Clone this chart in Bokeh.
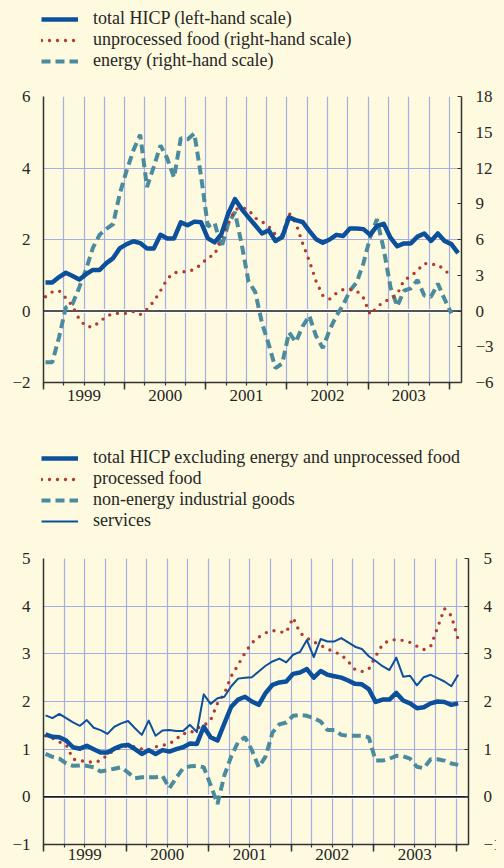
from bokeh.plotting import figure
from bokeh.models import (Range1d, LinearAxis, FixedTicker, Span, Legend, LegendItem,
                          Grid, CustomJSTickFormatter)
from bokeh.layouts import column
from bokeh.embed import file_html
from bokeh.resources import INLINE

START_YEAR = 1999
year_labels = ["1999", "2000", "2001", "2002", "2003"]

# ---- top chart (monthly, Jan 1999 onward) ----
hicp = [0.8, 0.8, 0.95, 1.07, 0.98, 0.88, 1.03, 1.15, 1.15, 1.34, 1.48, 1.76,
        1.87, 1.95, 1.9, 1.75, 1.75, 2.13, 2.03, 2.03, 2.48, 2.4, 2.5, 2.48,
        2.03, 1.92, 2.15, 2.72, 3.13, 2.85, 2.62, 2.4, 2.17, 2.26, 1.96, 2.07,
        2.62, 2.54, 2.49, 2.24, 2.01, 1.91, 2.0, 2.13, 2.1, 2.31, 2.31, 2.29,
        2.13, 2.38, 2.44, 2.05, 1.81, 1.89, 1.89, 2.08, 2.17, 1.96, 2.17, 1.96,
        1.87, 1.62]
unprocessed_food = [1.2, 1.6, 1.7, 1.1, 0.4, -0.7, -1.3, -1.35, -0.9, -0.45, -0.2, -0.2,
                    -0.2, -0.05, -0.3, 0.15, 0.8, 1.7, 2.7, 3.2, 3.3, 3.3, 3.5, 3.9,
                    4.5, 4.7, 6.2, 7.3, 8.5, 8.7, 8.5, 7.8, 7.5, 7.1, 6.4, 6.4,
                    8.2, 7.4, 5.7, 4.2, 2.5, 1.3, 1.0, 1.5, 1.8, 1.8, 1.7, 1.1,
                    -0.3, 0.3, 0.8, 1.0, 1.4, 2.6, 2.9, 3.4, 4.0, 3.9, 3.9, 3.4,
                    3.0]
energy = [-4.3, -4.3, -2.2, 0.3, 0.6, 2.0, 3.5, 5.3, 6.4, 6.9, 7.3, 9.9,
          11.8, 13.5, 14.8, 10.4, 12.1, 13.9, 12.8, 11.2, 14.5, 14.4, 14.9, 11.3,
          7.1, 7.4, 5.3, 7.3, 8.3, 5.6, 2.5, 1.6, -1.0, -2.8, -4.8, -4.4,
          -1.8, -2.6, -1.3, -0.4, -2.1, -3.1, -1.6, -0.4, 0.5, 1.7, 2.4, 4.0,
          6.2, 7.7, 5.2, 2.0, 0.4, 1.7, 1.9, 2.6, 1.3, 1.2, 2.3, 1.0,
          -0.2]

# ---- bottom chart ----
hicp_core = [1.31, 1.26, 1.25, 1.18, 1.04, 1.01, 1.07, 1.0, 0.93, 0.93, 1.01, 1.07,
             1.09, 1.0, 0.9, 0.98, 0.9, 0.98, 0.95, 1.0, 1.04, 1.12, 1.11, 1.47,
             1.25, 1.18, 1.54, 1.89, 2.04, 2.1, 2.0, 1.93, 2.18, 2.35, 2.4, 2.42,
             2.58, 2.61, 2.68, 2.5, 2.64, 2.56, 2.53, 2.5, 2.44, 2.37, 2.36, 2.26,
             1.99, 2.04, 2.04, 2.18, 2.02, 1.96, 1.86, 1.88, 1.96, 2.0, 1.99, 1.93,
             1.96]
processed_food = [1.28, 1.23, 1.15, 1.09, 0.79, 0.76, 0.74, 0.72, 0.76, 0.88, 0.98, 1.04,
                  1.07, 1.05, 1.0, 0.98, 1.05, 1.08, 1.11, 1.21, 1.33, 1.33, 1.44, 1.49,
                  1.61, 1.96, 2.16, 2.53, 2.77, 3.02, 3.23, 3.35, 3.44, 3.49, 3.46, 3.45,
                  3.76, 3.44, 3.33, 3.25, 3.18, 3.1, 3.04, 2.98, 2.84, 2.67, 2.63, 2.68,
                  2.95, 3.2, 3.28, 3.3, 3.28, 3.24, 3.16, 3.09, 3.16, 3.55, 3.95, 3.8,
                  3.3]
non_energy_goods = [0.9, 0.84, 0.8, 0.7, 0.65, 0.66, 0.65, 0.62, 0.53, 0.56, 0.59, 0.62,
                    0.51, 0.39, 0.41, 0.41, 0.41, 0.44, 0.18, 0.4, 0.6, 0.64, 0.65, 0.62,
                    0.25, -0.15, 0.45, 0.85, 1.15, 1.25, 0.98, 0.62, 0.85, 1.35, 1.52, 1.56,
                    1.7, 1.72, 1.7, 1.65, 1.58, 1.4, 1.4, 1.3, 1.28, 1.28, 1.28, 1.25,
                    0.76, 0.76, 0.8, 0.86, 0.85, 0.8, 0.63, 0.6, 0.79, 0.79, 0.76, 0.7,
                    0.67]
services = [1.71, 1.65, 1.74, 1.65, 1.56, 1.49, 1.61, 1.45, 1.40, 1.32, 1.47, 1.54,
            1.59, 1.44, 1.30, 1.60, 1.28, 1.39, 1.40, 1.38, 1.38, 1.51, 1.36, 2.15,
            1.95, 2.07, 2.10, 2.32, 2.48, 2.50, 2.51, 2.63, 2.75, 2.84, 2.90, 2.82,
            2.98, 3.04, 3.29, 2.93, 3.31, 3.26, 3.26, 3.33, 3.24, 3.15, 3.10, 2.95,
            2.85, 2.74, 2.66, 2.92, 2.52, 2.54, 2.34, 2.51, 2.56, 2.49, 2.42, 2.32,
            2.56]

top_left_ticks = [-2, 0, 2, 4, 6]
top_right_ticks = [-6, -3, 0, 3, 6, 9, 12, 15, 18]
bottom_ticks = [-1, 0, 1, 2, 3, 4, 5]

BG = "#FEFADF"
GRID = "#A3AEE2"
BLUE = "#0C4F9B"
RED = "#B23A2E"
TEAL = "#4B8B9D"
TXT = "#262626"
AXC = "#333333"
FONT = "'Liberation Serif', serif"


def month_x(n):
    return [START_YEAR + (i + 0.3) / 12 for i in range(n)]


year_bounds = [START_YEAR + i for i in range(6)]
quarters = [START_YEAR + i / 4 for i in range(21)]
mid_years = [START_YEAR + i + 0.5 for i in range(len(year_labels))]


def style_yaxis(ax, standoff, tick_in):
    ax.major_label_text_font = FONT
    ax.major_label_text_font_size = "17px"
    ax.major_label_text_color = TXT
    ax.axis_line_color = AXC
    ax.axis_line_width = 1.5
    ax.major_tick_in = tick_in
    ax.major_tick_out = 0
    ax.major_tick_line_color = AXC
    ax.minor_tick_line_color = None
    ax.major_label_standoff = standoff


def make_fig(height, frame_top, right_border, bottom_border, y_lo, y_hi,
             left_ticks, right_ticks, right_range, label_standoff, right_standoff):
    p = figure(width=496, height=height, x_range=Range1d(1999, 2004.15),
               y_range=Range1d(y_lo, y_hi), output_backend="svg", toolbar_location=None,
               min_border_left=35, min_border_right=right_border,
               min_border_top=frame_top, min_border_bottom=bottom_border,
               background_fill_color=BG, border_fill_color=BG, outline_line_color=None,
               x_axis_type=None, y_axis_type=None, frame_align=False)
    p.add_layout(Grid(dimension=0, ticker=FixedTicker(ticks=quarters),
                      grid_line_color=GRID, grid_line_width=1.2))
    p.add_layout(Grid(dimension=1, ticker=FixedTicker(ticks=left_ticks),
                      grid_line_color=GRID, grid_line_width=1.2))
    p.add_layout(Span(location=0, dimension="width", line_color="white",
                      line_width=4, level="underlay"))
    p.add_layout(Span(location=0, dimension="width", line_color="#1a1a1a",
                      line_width=1.6, level="underlay"))

    la = LinearAxis(ticker=FixedTicker(ticks=left_ticks))
    style_yaxis(la, 13, 0)
    p.add_layout(la, "left")

    if right_range is not None:
        p.extra_y_ranges = {"right": Range1d(*right_range)}
        ra = LinearAxis(y_range_name="right", ticker=FixedTicker(ticks=right_ticks))
    else:
        ra = LinearAxis(ticker=FixedTicker(ticks=right_ticks))
    style_yaxis(ra, right_standoff, 4)
    p.add_layout(ra, "right")

    # tick axis: long ticks at year boundaries, short ticks at quarters, no labels
    xa = LinearAxis(ticker=FixedTicker(ticks=year_bounds, minor_ticks=quarters))
    xa.axis_line_color = AXC
    xa.axis_line_width = 1.5
    xa.major_tick_out = 7
    xa.major_tick_in = 0
    xa.minor_tick_out = 3
    xa.minor_tick_in = 0
    xa.major_tick_line_color = AXC
    xa.major_tick_line_width = 1.5
    xa.minor_tick_line_color = AXC
    xa.minor_tick_line_width = 1.2
    xa.major_label_text_color = None
    xa.major_label_standoff = 0
    p.add_layout(xa, "below")

    # label axis: year names centred in each year
    xl = LinearAxis(ticker=FixedTicker(ticks=mid_years),
                    formatter=CustomJSTickFormatter(code="return Math.floor(tick).toString();"))
    xl.axis_line_color = None
    xl.major_tick_line_color = None
    xl.minor_tick_line_color = None
    xl.major_tick_out = 0
    xl.major_tick_in = 0
    xl.minor_tick_out = 0
    xl.minor_tick_in = 0
    xl.major_label_standoff = label_standoff
    xl.major_label_text_font = FONT
    xl.major_label_text_font_size = "17px"
    xl.major_label_text_color = TXT
    p.add_layout(xl, "below")
    return p


def make_legend_fig(height, items_spec, loc):
    lf = figure(width=496, height=height, x_range=Range1d(0, 1), y_range=Range1d(0, 1),
                output_backend="svg", toolbar_location=None, min_border=0,
                min_border_left=0, min_border_right=0, min_border_top=0, min_border_bottom=0,
                background_fill_color=BG, border_fill_color=BG, outline_line_color=None,
                x_axis_type=None, y_axis_type=None, frame_align=False)
    items = []
    for label, xs, ys, kw in items_spec:
        r = lf.line(xs, ys, **kw)   # data lies outside this strip's range: only the legend shows
        items.append(LegendItem(label=label, renderers=[r]))
    lg = Legend(items=items, location=loc, orientation="vertical")
    lg.background_fill_alpha = 0
    lg.border_line_color = None
    lg.padding = 0
    lg.margin = 0
    lg.spacing = 0
    lg.glyph_width = 37
    lg.glyph_height = 20
    lg.label_height = 20
    lg.label_standoff = 15
    lg.label_text_font = FONT
    lg.label_text_font_size = "18px"
    lg.label_text_color = TXT
    lf.add_layout(lg)
    return lf


ST_THICK = dict(line_color=BLUE, line_width=4.5, line_join="round")
ST_THIN = dict(line_color=BLUE, line_width=2, line_join="round")
ST_DOT = dict(line_color=RED, line_width=3.4, line_dash="0 8", line_cap="round")
ST_DASH = dict(line_color=TEAL, line_width=4, line_dash="9 5")

x_top_long = month_x(len(hicp))
x_top = month_x(len(energy))
x_bot = month_x(len(hicp_core))

# ---------------- top legend + figure ----------------
top_leg = make_legend_fig(78, [
    ("total HICP (left-hand scale)", x_top_long, hicp, ST_THICK),
    ("unprocessed food (right-hand scale)", x_top, unprocessed_food, ST_DOT),
    ("energy (right-hand scale)", x_top, energy, ST_DASH),
], (33, 15))

top = make_fig(326, 10, 43, 30, -2, 6, top_left_ticks, top_right_ticks, (-6, 18), 0, 14)
top.line(x_top, energy, y_range_name="right", **ST_DASH)
top.line(x_top, unprocessed_food, y_range_name="right", **ST_DOT)
top.line(x_top_long, hicp, **ST_THICK)

# ---------------- bottom legend + figure ----------------
bot_leg = make_legend_fig(136, [
    ("total HICP excluding energy and unprocessed food", x_bot, hicp_core, ST_THICK),
    ("processed food", x_bot, processed_food, ST_DOT),
    ("non-energy industrial goods", x_bot, non_energy_goods, ST_DASH),
    ("services", x_bot, services, ST_THIN),
], (33, 17))

bot = make_fig(320, 10, 33, 24, -1, 5, bottom_ticks, bottom_ticks, None, -3, 15)
bot.line(x_bot, non_energy_goods, **ST_DASH)
bot.line(x_bot, processed_food, **ST_DOT)
bot.line(x_bot, services, **ST_THIN)
bot.line(x_bot, hicp_core, **ST_THICK)

layout = column(top_leg, top, bot_leg, bot, spacing=0)
html = file_html(layout, INLINE)
html = html.replace("</head>",
                    "<style>html,body{background:%s;margin:0;padding:0}body{margin:8px}</style></head>" % BG, 1)
open("out.html", "w").write(html)
